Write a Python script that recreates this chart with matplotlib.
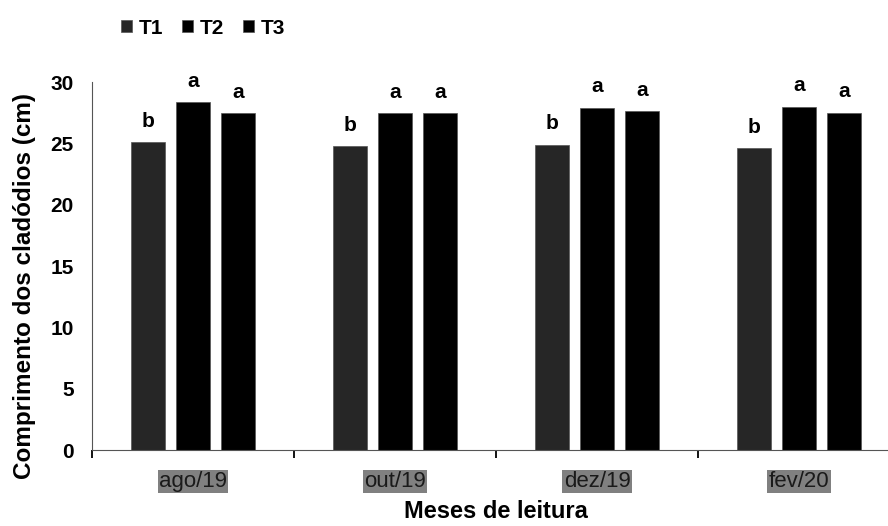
import matplotlib.pyplot as plt
import numpy as np

meses = ["ago/19", "out/19", "dez/19", "fev/20"]
tratamentos = ["T1", "T2", "T3"]
t1 = [25.1, 24.8, 24.9, 24.6]
t2 = [28.35, 27.45, 27.9, 28.0]
t3 = [27.45, 27.45, 27.6, 27.5]
letras = [["b", "b", "b", "b"], ["a", "a", "a", "a"], ["a", "a", "a", "a"]]

cores = ["#262626", "#000000", "#000000"]

plt.rcParams["font.family"] = ["Liberation Sans", "DejaVu Sans"]

fig = plt.figure(figsize=(8.88, 5.26), dpi=100)
ax = fig.add_axes([92 / 888, 76 / 526, 808 / 888, 368 / 526])

x = np.arange(len(meses))
largura = 0.168
passo = 0.223
series = [t1, t2, t3]
for i, (vals, cor, nome) in enumerate(zip(series, cores, tratamentos)):
    pos = x + (i - 1) * passo
    ax.bar(pos, vals, width=largura, color=cor, edgecolor="#555555",
           linewidth=0.5, label=nome)
    for px, v, l in zip(pos, vals, letras[i]):
        ax.annotate(l, (px, v), xytext=(0, 11), textcoords="offset points",
                    ha="center", va="baseline", fontsize=15,
                    fontweight="bold")

ax.set_xlim(-0.5, 3.5)
ax.set_ylim(0, 30)
ax.set_yticks(range(0, 31, 5))
ax.tick_params(axis="y", length=0, pad=13, labelsize=15)
for t in ax.get_yticklabels():
    t.set_fontweight("bold")

ax.set_xticks(x)
ax.set_xticklabels(meses)
ax.tick_params(axis="x", which="major", length=0, pad=15, labelsize=16,
               labelcolor="#1a1a1a")
for t in ax.get_xticklabels():
    t.set_bbox(dict(facecolor="#808080", edgecolor="none", pad=1.0))
ax.set_xticks(np.arange(-0.5, 4, 1), minor=True)
ax.tick_params(axis="x", which="minor", length=6, width=1.3, color="black")

for s in ["top", "right"]:
    ax.spines[s].set_visible(False)
ax.spines["left"].set_color("#555555")
ax.spines["bottom"].set_color("#555555")

ax.set_xlabel("Meses de leitura", fontsize=17, fontweight="bold")
ax.xaxis.set_label_coords(404 / 808, -50 / 368)
ax.set_ylabel("Comprimento dos cladódios (cm)", fontsize=17.5,
              fontweight="bold")
ax.yaxis.set_label_coords(-56 / 808, 0.446)

ax.legend(loc="center left", bbox_to_anchor=(121 / 888, 1 - 28 / 526),
          bbox_transform=fig.transFigure, ncol=3, frameon=False,
          prop={"weight": "bold", "size": 15},
          handlelength=0.55, handleheight=0.55, handletextpad=0.3,
          columnspacing=0.9, borderaxespad=0, borderpad=0)

fig.savefig("out.png", dpi=100)
